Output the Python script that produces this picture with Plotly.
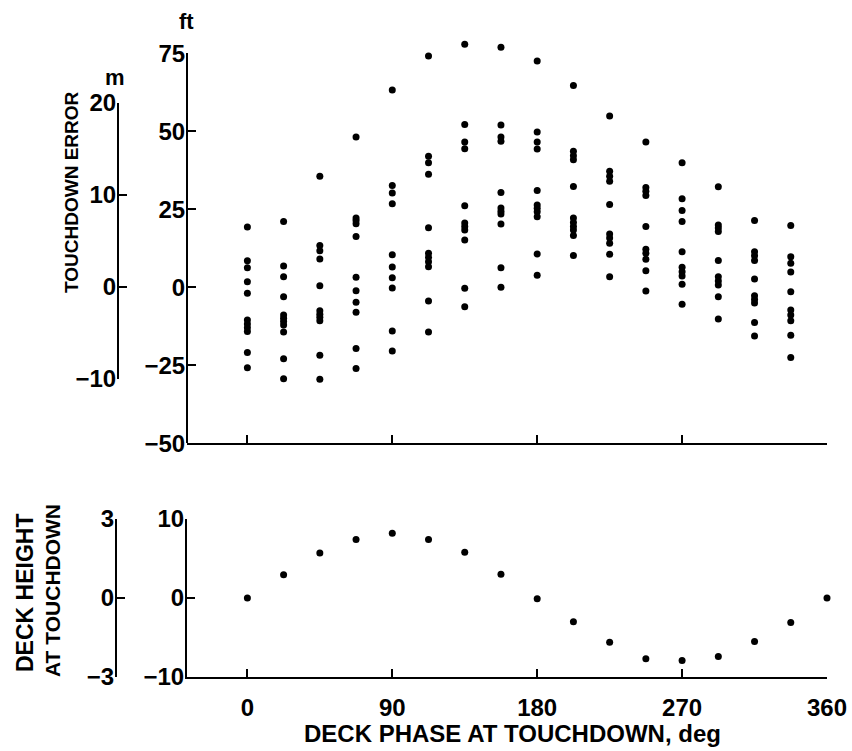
import plotly.graph_objects as go

# ---------------- data ----------------
phase_cols = [0, 22.5, 45, 67.5, 90, 112.5, 135, 157.5, 180, 202.5, 225, 247.5, 270, 292.5, 315, 337.5]
err_c00 = [19.3, 8.5, 6.3, 1.8, -1.9, -10.5, -11.8, -13.0, -14.2, -20.9, -25.8]
err_c01 = [21.1, 6.8, 3.4, -3.0, -8.9, -9.9, -11.0, -12.1, -14.3, -22.9, -29.3]
err_c02 = [35.6, 13.4, 11.7, 9.1, 0.5, -7.5, -8.6, -9.6, -10.7, -21.8, -29.5]
err_c03 = [48.2, 22.2, 21.4, 20.4, 16.3, 3.2, -1.1, -4.8, -8.0, -19.6, -26.0]
err_c04 = [63.2, 32.6, 30.2, 26.8, 10.4, 6.5, 3.1, -0.2, -14.0, -20.4]
err_c05 = [74.1, 42.0, 39.9, 36.2, 19.1, 10.9, 9.6, 8.2, 6.6, -4.4, -14.3]
err_c06 = [77.9, 52.2, 46.6, 44.4, 26.1, 20.6, 19.5, 18.4, 15.2, -0.3, -6.2]
err_c07 = [76.9, 52.0, 48.2, 46.8, 30.4, 25.4, 24.4, 23.5, 20.3, 6.3, 0.0]
err_c08 = [72.5, 49.8, 46.6, 44.3, 31.0, 26.4, 25.3, 24.2, 22.6, 10.7, 3.9]
err_c09 = [64.7, 43.6, 42.2, 40.9, 32.3, 22.2, 20.8, 19.5, 18.4, 16.6, 10.2]
err_c10 = [54.9, 37.2, 35.6, 34.0, 26.5, 17.1, 15.8, 14.1, 10.6, 3.4]
err_c11 = [46.6, 32.0, 30.8, 29.4, 19.5, 12.2, 10.9, 9.0, 5.3, -1.2]
err_c12 = [39.9, 28.4, 24.6, 21.1, 11.4, 6.4, 5.0, 3.6, 1.0, -5.4]
err_c13 = [32.2, 20.0, 19.0, 17.9, 8.6, 3.4, 2.0, 0.7, -3.0, -10.2]
err_c14 = [21.4, 11.4, 10.1, 8.6, 2.7, -2.7, -3.9, -5.0, -11.3, -15.6]
err_c15 = [19.8, 9.8, 7.7, 4.9, -1.4, -7.3, -8.9, -10.7, -15.4, -22.5]
err_cols = [err_c00, err_c01, err_c02, err_c03, err_c04, err_c05, err_c06, err_c07,
            err_c08, err_c09, err_c10, err_c11, err_c12, err_c13, err_c14, err_c15]

deck_phase = [0, 22.5, 45, 67.5, 90, 112.5, 135, 157.5, 180, 202.5, 225, 247.5, 270, 292.5, 315, 337.5, 360]
deck_height_ft = [0, 2.95, 5.7, 7.4, 8.2, 7.4, 5.8, 3.0, -0.1, -3.0, -5.6, -7.7, -7.9, -7.4, -5.5, -3.1, 0]

x_ticks = [0, 90, 180, 270, 360]
err_ft_ticks = [-50, -25, 0, 25, 50, 75]
err_m_ticks = [-10, 0, 10, 20]
deck_ft_ticks = [-10, 0, 10]
deck_m_ticks = [-3, 0, 3]

# ---------------- figure ----------------
W, H = 852, 751
FONT = "Liberation Sans"

def px_x(p):
    return p / W

def px_y(p):
    return (H - p) / H

def lab(v):
    return ("\u2212" + str(-v)) if v < 0 else str(v)

scat_x, scat_y = [], []
for ph, col in zip(phase_cols, err_cols):
    for v in col:
        scat_x.append(ph)
        scat_y.append(v)

# pixel geometry of the upper panel: -50 ft at 443.3 px, 75 ft at 53.3 px
top_bot_px, top_top_px = 443.3, 53.3
ft_per_px = (top_bot_px - top_top_px) / 125.0
data_top_ft = 82
data_top_px = top_bot_px - (data_top_ft + 50) * ft_per_px

fig = go.Figure()
# carrier traces for the drawn axes (no marks)
fig.add_trace(go.Scatter(x=[None], y=[None], xaxis="x", yaxis="y3", showlegend=False, hoverinfo="skip"))
fig.add_trace(go.Scatter(x=[None], y=[None], xaxis="x2", yaxis="y4", showlegend=False, hoverinfo="skip"))
fig.add_trace(go.Scatter(x=[None], y=[None], xaxis="x", yaxis="y5", showlegend=False, hoverinfo="skip"))
fig.add_trace(go.Scatter(x=scat_x, y=scat_y, mode="markers", xaxis="x", yaxis="y",
                         marker=dict(color="black", size=7), cliponaxis=False,
                         showlegend=False, hoverinfo="x+y"))
fig.add_trace(go.Scatter(x=deck_phase, y=deck_height_ft, mode="markers", xaxis="x2", yaxis="y2",
                         marker=dict(color="black", size=7), cliponaxis=False,
                         showlegend=False, hoverinfo="x+y"))

tickfont = dict(family=FONT, size=24, color="black", weight="bold")
common_axis = dict(showline=True, linecolor="black", linewidth=2, ticks="inside",
                   ticklen=8, tickwidth=2, tickcolor="black", showgrid=False,
                   zeroline=False, tickfont=tickfont, automargin=False)

xdom = [px_x(187), px_x(827)]
fig.update_layout(
    width=W, height=H,
    margin=dict(l=0, r=0, t=0, b=0, pad=0, autoexpand=False),
    paper_bgcolor="white", plot_bgcolor="rgba(0,0,0,0)",
    font=dict(family=FONT, color="black"),
    xaxis=dict(domain=xdom, range=[-37.5, 360], anchor="y", tickvals=x_ticks,
               showticklabels=False, **common_axis),
    xaxis2=dict(domain=xdom, range=[-37.5, 360], anchor="y2", tickvals=x_ticks,
                ticktext=[lab(v) for v in x_ticks], ticklabelstandoff=8, **common_axis),
    # data axis of the upper panel (hidden, extends a little above 75 ft)
    yaxis=dict(domain=[px_y(top_bot_px), px_y(data_top_px)], range=[-50, data_top_ft], anchor="x",
               visible=False, showgrid=False, zeroline=False, automargin=False),
    # drawn ft axis of the upper panel
    yaxis5=dict(domain=[px_y(top_bot_px), px_y(top_top_px)], range=[-50, 75], anchor="free",
                position=px_x(187), side="left",
                tickvals=err_ft_ticks, ticktext=[lab(v) for v in err_ft_ticks],
                ticklabelstandoff=-4, **common_axis),
    yaxis2=dict(domain=[px_y(677), px_y(519)], range=[-10, 10], anchor="x2",
                tickvals=deck_ft_ticks, ticktext=[lab(v) for v in deck_ft_ticks],
                ticklabelstandoff=-4, **common_axis),
    yaxis3=dict(domain=[px_y(379), px_y(102.7)], range=[-10, 20], anchor="free",
                position=px_x(118), side="left", tickvals=err_m_ticks,
                ticktext=[lab(v) for v in err_m_ticks], ticklabelstandoff=-4, **common_axis),
    yaxis4=dict(domain=[px_y(677), px_y(519)], range=[-3, 3], anchor="free",
                position=px_x(116), side="left", tickvals=deck_m_ticks,
                ticktext=[lab(v) for v in deck_m_ticks], ticklabelstandoff=-4, **common_axis),
)

def ann(text, x, y, size, angle=0):
    return dict(text="<b>" + text + "</b>", x=px_x(x), y=px_y(y), xref="paper", yref="paper",
                showarrow=False, font=dict(family=FONT, size=size, color="black"),
                textangle=angle, xanchor="center", yanchor="middle")

annotations = [
    ann("ft", 186, 21, 22),
    ann("m", 115, 77, 22),
    ann("TOUCHDOWN ERROR", 72, 192, 19, -90),
    ann("DECK HEIGHT", 25, 593, 23, -90),
    ann("AT TOUCHDOWN", 52, 591, 21, -90),
    ann("DECK PHASE AT TOUCHDOWN, deg", 512, 733, 24),
]
fig.update_layout(annotations=annotations)

fig.write_html("out.html", config={"displayModeBar": False},
               post_script="document.body.style.margin='0px';document.body.style.overflow='hidden';")
